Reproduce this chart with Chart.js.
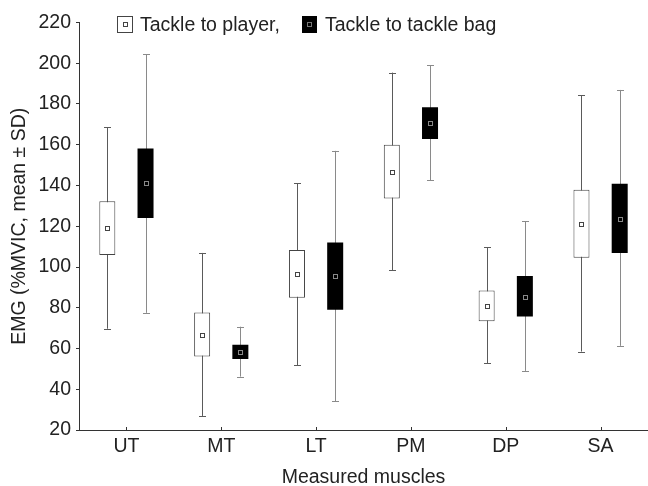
<!DOCTYPE html>
<html>
<head>
<meta charset="utf-8">
<script src="https://cdn.jsdelivr.net/npm/chart.js@4.4.1/dist/chart.umd.min.js"></script>
<style>
  html, body { margin: 0; padding: 0; background: #fff; }
  #wrap { width: 648px; height: 486px; }
</style>
</head>
<body>
<div id="wrap"><canvas id="c" width="648" height="486"></canvas></div>
<script>
// ---- Data ----
const categories = ['UT', 'MT', 'LT', 'PM', 'DP', 'SA'];
const yTicks = [20, 40, 60, 80, 100, 120, 140, 160, 180, 200, 220];

// Tackle to player
const playerMean        = [118.9,  66.7,  96.4, 146.6,  80.7, 121.1];
const playerBoxLow      = [105.9,  56.1,  84.9, 133.6,  73.4, 104.6];
const playerBoxHigh     = [132.3,  77.7, 108.4, 160.0,  88.5, 137.9];
const playerWhiskerLow  = [ 69.7,  26.9,  51.8,  98.5,  52.8,  58.5];
const playerWhiskerHigh = [168.5, 106.9, 141.1, 195.4, 109.7, 184.4];

// Tackle to tackle bag
const bagMean        = [141.0,  58.2,  95.4, 170.5,  85.4, 123.4];
const bagBoxLow      = [124.1,  54.9,  79.0, 162.8,  75.7, 106.9];
const bagBoxHigh     = [158.2,  61.8, 112.0, 178.4,  95.6, 140.8];
const bagWhiskerLow  = [ 77.5,  46.2,  34.1, 142.6,  49.0,  61.3];
const bagWhiskerHigh = [204.4,  70.7, 157.0, 199.0, 122.5, 186.9];

const seriesNames = ['Tackle to player,', 'Tackle to tackle bag'];

// ---- Styling ----
const FONT = "'Liberation Sans', Arial, sans-serif";
const TEXT = '#222';
const AXIS = '#333';

const whiskers = [
  { low: playerWhiskerLow, high: playerWhiskerHigh, mean: playerMean, color: '#5a5a5a', markerStroke: '#444', markerFill: '#fff' },
  { low: bagWhiskerLow, high: bagWhiskerHigh, mean: bagMean, color: '#8a8a8a', markerStroke: '#888', markerFill: '#000' }
];

const boxPlugin = {
  id: 'boxExtras',
  beforeDatasetsDraw(chart) {
    const ctx = chart.ctx;
    const y = chart.scales.y;
    whiskers.forEach((w, di) => {
      const meta = chart.getDatasetMeta(di);
      meta.data.forEach((bar, i) => {
        const x = Math.round(bar.x) + 0.5;
        const yh = y.getPixelForValue(w.high[i]);
        const yl = y.getPixelForValue(w.low[i]);
        ctx.save();
        ctx.strokeStyle = w.color;
        ctx.lineWidth = 1;
        ctx.beginPath();
        ctx.moveTo(x, yh); ctx.lineTo(x, yl);
        ctx.moveTo(x - 3.5, Math.round(yh) + 0.5); ctx.lineTo(x + 3.5, Math.round(yh) + 0.5);
        ctx.moveTo(x - 3.5, Math.round(yl) + 0.5); ctx.lineTo(x + 3.5, Math.round(yl) + 0.5);
        ctx.stroke();
        ctx.restore();
      });
    });
  },
  afterDatasetsDraw(chart) {
    const ctx = chart.ctx;
    const y = chart.scales.y;
    const xs = chart.scales.x;
    whiskers.forEach((w, di) => {
      const meta = chart.getDatasetMeta(di);
      meta.data.forEach((bar, i) => {
        const x = Math.round(bar.x);
        const ym = Math.round(y.getPixelForValue(w.mean[i]));
        ctx.save();
        ctx.fillStyle = w.markerFill;
        ctx.strokeStyle = w.markerStroke;
        ctx.lineWidth = 1;
        ctx.fillRect(x - 2, ym - 2, 5, 5);
        ctx.strokeRect(x - 2 + 0.5, ym - 2 + 0.5, 4, 4);
        ctx.restore();
      });
    });
    // inward x-axis tick marks at category centres
    ctx.save();
    ctx.strokeStyle = AXIS;
    ctx.lineWidth = 1;
    ctx.beginPath();
    categories.forEach((c, i) => {
      const px = Math.round(xs.getPixelForValue(i)) + 0.5;
      ctx.moveTo(px, chart.chartArea.bottom);
      ctx.lineTo(px, chart.chartArea.bottom - 3);
    });
    ctx.stroke();
    ctx.restore();
  },
  afterDraw(chart) {
    // legend
    const ctx = chart.ctx;
    ctx.save();
    ctx.fillStyle = '#fff';
    ctx.strokeStyle = '#444';
    ctx.lineWidth = 1;
    ctx.fillRect(117, 16, 16, 17);
    ctx.strokeRect(117.5, 16.5, 15, 16);
    ctx.strokeRect(123.5, 22.5, 4, 4);
    ctx.fillStyle = '#000';
    ctx.fillRect(302, 16, 15, 17);
    ctx.strokeStyle = '#777';
    ctx.strokeRect(307.5, 22.5, 4, 4);
    ctx.fillStyle = TEXT;
    ctx.font = '19.5px ' + FONT;
    ctx.textBaseline = 'alphabetic';
    ctx.textAlign = 'left';
    ctx.fillText(seriesNames[0], 140, 31);
    ctx.fillText(seriesNames[1], 325, 31);
    ctx.restore();
  }
};

new Chart(document.getElementById('c'), {
  type: 'bar',
  data: {
    labels: categories,
    datasets: [
      {
        label: seriesNames[0],
        data: playerBoxLow.map((v, i) => [v, playerBoxHigh[i]]),
        backgroundColor: '#ffffff',
        borderColor: '#444444',
        borderWidth: 1,
        borderSkipped: false
      },
      {
        label: seriesNames[1],
        data: bagBoxLow.map((v, i) => [v, bagBoxHigh[i]]),
        backgroundColor: '#000000',
        borderWidth: 0,
        borderSkipped: false
      }
    ]
  },
  options: {
    responsive: false,
    animation: false,
    devicePixelRatio: 1,
    layout: { padding: { top: 22.5, right: 0, bottom: 0, left: 0 } },
    datasets: { bar: { categoryPercentage: 0.806, barPercentage: 0.419 } },
    plugins: {
      legend: { display: false },
      tooltip: { enabled: false }
    },
    scales: {
      x: {
        type: 'category',
        grid: { display: false, drawTicks: false },
        border: { display: true, color: AXIS, width: 1 },
        ticks: { color: TEXT, font: { family: FONT, size: 19.5 }, padding: 5, maxRotation: 0 },
        title: {
          display: true,
          text: 'Measured muscles',
          color: TEXT,
          font: { family: FONT, size: 19.5, lineHeight: 0.9 },
          padding: { top: 0, bottom: 0 }
        },
        afterFit(scale) { scale.height = 56; }
      },
      y: {
        min: 20,
        max: 220,
        afterBuildTicks(scale) { scale.ticks = yTicks.map(v => ({ value: v })); },
        grid: { display: true, drawOnChartArea: false, drawTicks: true, tickLength: 3, color: AXIS },
        border: { display: true, color: AXIS, width: 1 },
        ticks: { color: TEXT, font: { family: FONT, size: 19.5 }, padding: 5 },
        title: {
          display: true,
          text: 'EMG (%MVIC, mean ± SD)',
          color: TEXT,
          font: { family: FONT, size: 19.5 },
          padding: { top: 8, bottom: 0 }
        },
        afterFit(scale) { scale.width = 79; }
      }
    }
  },
  plugins: [boxPlugin]
});
</script>
</body>
</html>
